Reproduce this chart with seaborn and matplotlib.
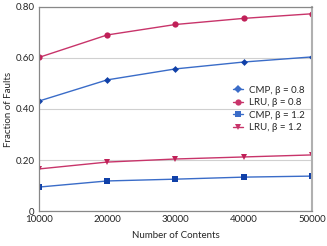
import seaborn as sns
import matplotlib.pyplot as plt
import pandas as pd

contents = [10000, 20000, 30000, 40000, 50000]
cmp_08 = [0.431, 0.514, 0.557, 0.584, 0.604]
lru_08 = [0.602, 0.690, 0.731, 0.755, 0.773]
cmp_12 = [0.094, 0.118, 0.125, 0.133, 0.137]
lru_12 = [0.165, 0.192, 0.204, 0.212, 0.220]
series_names = ['CMP, β = 0.8', 'LRU, β = 0.8', 'CMP, β = 1.2', 'LRU, β = 1.2']
y_ticks = [0, 0.2, 0.4, 0.6, 0.8]
y_labels = ['0', '0.20', '0.40', '0.60', '0.80']

df = pd.DataFrame({
    'Contents': contents * 4,
    'Faults': cmp_08 + lru_08 + cmp_12 + lru_12,
    'Series': [s for s in series_names for _ in contents],
})

sns.set_style('white')
plt.rcParams['font.family'] = ['Lato', 'DejaVu Sans']

fig = plt.figure(figsize=(3.27, 2.46), dpi=100)
ax = fig.add_axes([0.119, 0.142, 0.835, 0.830])

palette = {series_names[0]: '#3a6cc8', series_names[1]: '#c8346a',
           series_names[2]: '#3a6cc8', series_names[3]: '#c8346a'}
markers = {series_names[0]: 'D', series_names[1]: 'o',
           series_names[2]: 's', series_names[3]: 'v'}
sns.lineplot(data=df, x='Contents', y='Faults', hue='Series', style='Series',
             palette=palette, markers=markers, dashes=False, linewidth=1.0,
             markersize=4.5, markeredgewidth=0, ax=ax)

# darker marker faces like the original
for line, name in zip(ax.get_lines(), series_names):
    face = '#1040a8' if name.startswith('CMP') else '#c02058'
    line.set_markerfacecolor(face)
    if name == series_names[0]:
        line.set_markersize(3.5)

ax.set_xlim(10000, 50000)
ax.set_ylim(0, 0.8)
ax.set_xticks(contents)
ax.set_yticks(y_ticks)
ax.set_yticklabels(y_labels)
ax.tick_params(labelsize=7, length=0, pad=3)
ax.yaxis.grid(True, color='#d0d0d0', linewidth=0.8)
for sp in ax.spines.values():
    sp.set_color('#888888')
    sp.set_linewidth(0.9)
ax.spines['right'].set_color('#b0b0b0')
ax.spines['right'].set_linewidth(1.5)
ax.set_xlabel('Number of Contents', fontsize=7, labelpad=5)
ax.set_ylabel('Fraction of Faults', fontsize=7, labelpad=2)

handles, labels = ax.get_legend_handles_labels()
ax.legend(handles, labels, loc='center right', bbox_to_anchor=(0.995, 0.5),
          frameon=False, fontsize=7, handlelength=1.0, handletextpad=0.6,
          labelspacing=0.35, borderaxespad=0.2)

fig.savefig('out.png', dpi=100)
